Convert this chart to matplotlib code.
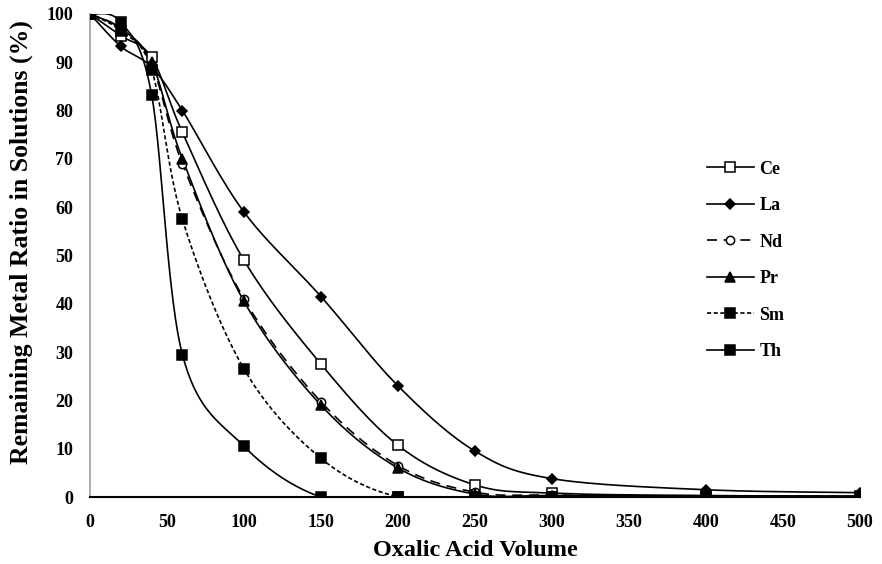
import numpy as np
import matplotlib.pyplot as plt

plt.rcParams['font.family'] = ['Liberation Serif', 'DejaVu Serif']

# oxalic acid volume (x) and remaining metal ratio (%) per element
volume = [0, 20, 40, 60, 100, 150, 200, 250, 300, 400, 500]

ce = [100, 95.5, 91, 75.5, 49, 27.5, 10.7, 2.5, 0.8, 0.3, 0.2]
la = [100, 93.3, 89, 80, 59, 41.5, 23, 9.5, 3.8, 1.5, 0.9]
nd = [100, 97, 89.5, 69, 41, 19.7, 6.5, 1.0, 0.4, 0.2, 0.1]
pr = [100, 97, 90, 70, 40.5, 19, 6, 0.6, 0.3, 0.2, 0.1]
sm = [100, 96.5, 88.5, 57.5, 26.5, 8, 0, 0, 0, 0, 0]
th = [100, 98.3, 83.3, 29.5, 10.5, 0, 0, 0, 0, 0, 0]

names = ['Ce', 'La', 'Nd', 'Pr', 'Sm', 'Th']


def smooth(x, y, n=30):
    # Excel-style smoothed line: cubic Bezier with Catmull-Rom control points
    x = np.asarray(x, float)
    y = np.asarray(y, float)
    pts = np.column_stack([x, y])
    out = []
    t = np.linspace(0, 1, n)[:, None]
    for i in range(len(pts) - 1):
        p0 = pts[max(i - 1, 0)]
        p1 = pts[i]
        p2 = pts[i + 1]
        p3 = pts[min(i + 2, len(pts) - 1)]
        c1 = p1 + (p2 - p0) / 6.0
        c2 = p2 - (p3 - p1) / 6.0
        seg = ((1 - t) ** 3) * p1 + 3 * ((1 - t) ** 2) * t * c1 \
            + 3 * (1 - t) * t ** 2 * c2 + t ** 3 * p2
        out.append(seg if i == 0 else seg[1:])
    seg = np.vstack(out)
    return seg[:, 0], seg[:, 1]


fig = plt.figure(figsize=(8.82, 5.64), dpi=100)
ax = fig.add_axes([90 / 882, 1 - 497 / 564, 770 / 882, 483 / 564])

styles = {
    'Ce': dict(ls='-', marker='s', mfc='white', ms=6.5),
    'La': dict(ls='-', marker='D', mfc='black', ms=5),
    'Nd': dict(ls=(0, (6, 4)), marker='o', mfc='white', ms=6),
    'Pr': dict(ls='-', marker='^', mfc='black', ms=6.5),
    'Sm': dict(ls=(0, (2.5, 1.5)), marker='s', mfc='black', ms=7),
    'Th': dict(ls='-', marker='s', mfc='black', ms=7),
}

for name, vals in zip(names, [ce, la, nd, pr, sm, th]):
    st = styles[name]
    sx, sy = smooth(volume, vals)
    ax.plot(sx, sy, color='black', lw=1.2, ls=st['ls'], zorder=2)
    ax.plot(volume, vals, ls='none', marker=st['marker'], ms=st['ms'],
            mfc=st['mfc'], mec='black', mew=1.1, zorder=3)
    # legend proxy
    ax.plot([], [], color='black', lw=1.2, ls=st['ls'], marker=st['marker'],
            ms=st['ms'], mfc=st['mfc'], mec='black', mew=1.1, label=name)

ax.set_xlim(0, 500)
ax.set_ylim(0, 100)
ax.set_xticks(range(0, 501, 50))
ax.set_yticks(range(0, 101, 10))
ax.tick_params(length=0, labelsize=13)
ax.tick_params(axis='x', pad=12)
ax.tick_params(axis='y', pad=12)
for lab in ax.get_xticklabels() + ax.get_yticklabels():
    lab.set_fontweight('bold')

for s in ['top', 'right']:
    ax.spines[s].set_visible(False)
ax.spines['left'].set_color('#b0b0b0')
ax.spines['left'].set_linewidth(1.5)
ax.spines['bottom'].set_color('black')
ax.spines['bottom'].set_linewidth(1.5)

ax.set_xlabel('Oxalic Acid Volume', fontsize=17.5, fontweight='bold', labelpad=7)
ax.set_ylabel('Remaining Metal Ratio in Solutions (%)', fontsize=18.5,
              fontweight='bold')
ax.yaxis.set_label_coords(-0.074, 0.528)

ax.legend(loc='upper left', bbox_to_anchor=(0.78, 0.73), frameon=False,
          prop={'weight': 'bold', 'size': 13}, handlelength=2.6,
          labelspacing=1.08, handletextpad=0.3)

fig.savefig('out.png', dpi=100)
